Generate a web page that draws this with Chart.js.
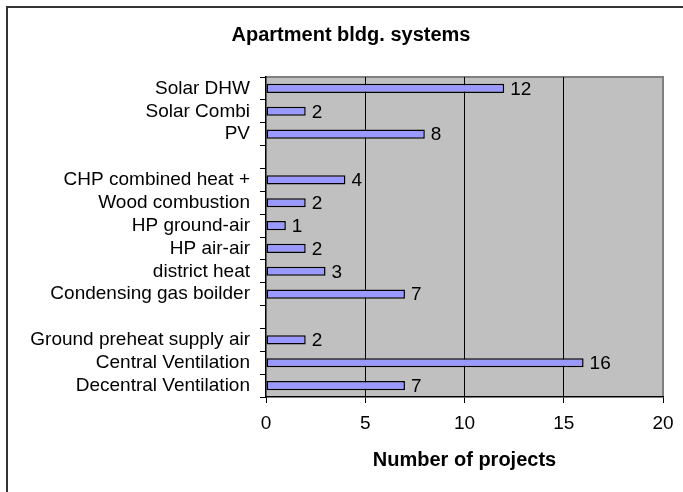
<!DOCTYPE html>
<html>
<head>
<meta charset="utf-8">
<script src="https://cdn.jsdelivr.net/npm/chart.js@4/dist/chart.umd.min.js"></script>
<style>
  html, body { margin: 0; padding: 0; background: #fff; }
  #wrap { width: 683px; height: 492px; }
</style>
</head>
<body>
<div id="wrap"><canvas id="chart" width="683" height="492"></canvas></div>
<script>
// categories top to bottom, "" = spacer row
const categories = [
  "Solar DHW", "Solar Combi", "PV", "",
  "CHP combined heat +", "Wood combustion", "HP ground-air", "HP air-air",
  "district heat", "Condensing gas boilder", "",
  "Ground preheat supply air", "Central Ventilation", "Decentral Ventilation"
];
const projects = [12, 2, 8, null, 4, 2, 1, 2, 3, 7, null, 2, 16, 7];
const xTicks = [0, 5, 10, 15, 20];

const FONT = "'Liberation Sans', Arial, sans-serif";

// frame, title and plot background
const backdrop = {
  id: "backdrop",
  beforeDraw(chart) {
    const { ctx, chartArea: a } = chart;
    ctx.save();
    ctx.fillStyle = "#fff";
    ctx.fillRect(0, 0, chart.width, chart.height);
    ctx.strokeStyle = "#333";
    ctx.lineWidth = 2;
    ctx.beginPath();
    ctx.moveTo(7, chart.height);
    ctx.lineTo(7, 7);
    ctx.lineTo(chart.width, 7);
    ctx.stroke();
    ctx.fillStyle = "#c0c0c0";
    ctx.fillRect(a.left, a.top, a.right - a.left, a.bottom - a.top);
    ctx.strokeStyle = "#808080";
    ctx.lineWidth = 2;
    ctx.beginPath();
    ctx.moveTo(a.left, a.top);
    ctx.lineTo(a.right, a.top);
    ctx.lineTo(a.right, a.bottom);
    ctx.stroke();
    ctx.fillStyle = "#000";
    ctx.font = "bold 20px " + FONT;
    ctx.textAlign = "center";
    ctx.textBaseline = "middle";
    ctx.fillText("Apartment bldg. systems", 351, 35);
    ctx.restore();
  }
};

// numbers at the end of each bar
const valueLabels = {
  id: "valueLabels",
  afterDatasetsDraw(chart) {
    const { ctx } = chart;
    const meta = chart.getDatasetMeta(0);
    ctx.save();
    ctx.fillStyle = "#000";
    ctx.font = "19px " + FONT;
    ctx.textAlign = "left";
    ctx.textBaseline = "middle";
    meta.data.forEach((bar, i) => {
      const v = projects[i];
      if (v == null) return;
      ctx.fillText(String(v), bar.x + 6, bar.y + 1);
    });
    ctx.restore();
  }
};

new Chart(document.getElementById("chart"), {
  type: "bar",
  data: {
    labels: categories,
    datasets: [{
      data: projects,
      backgroundColor: "#9999ff",
      borderColor: "#000",
      borderWidth: 1.5,
      borderSkipped: false,
      categoryPercentage: 1,
      barPercentage: 0.4
    }]
  },
  options: {
    indexAxis: "y",
    responsive: false,
    animation: false,
    devicePixelRatio: 1,
    layout: { padding: { top: 77, right: 20, left: 0, bottom: 0 } },
    plugins: {
      legend: { display: false },
      tooltip: { enabled: false }
    },
    scales: {
      x: {
        min: 0,
        max: 20,
        afterBuildTicks(scale) {
          scale.ticks = xTicks.map(v => ({ value: v }));
        },
        afterFit(scale) { scale.height = 95; },
        ticks: { color: "#000", font: { family: FONT, size: 19 }, padding: 9 },
        grid: {
          color: c => (c.tick.value > 0 && c.tick.value < 20) ? "#000" : "rgba(0,0,0,0)",
          tickColor: "#000",
          tickLength: 6,
          lineWidth: 1
        },
        border: { color: "#000", width: 1.5 },
        title: {
          display: true,
          text: "Number of projects",
          color: "#000",
          font: { family: FONT, size: 20, weight: "bold" },
          padding: { top: 0, bottom: 20 }
        }
      },
      y: {
        afterFit(scale) { scale.width = 266; },
        ticks: { color: "#000", font: { family: FONT, size: 19 }, padding: 10, autoSkip: false },
        grid: {
          offset: true,
          drawOnChartArea: false,
          tickColor: "#000",
          tickLength: 6
        },
        border: { color: "#000", width: 1.5 }
      }
    }
  },
  plugins: [backdrop, valueLabels]
});
</script>
</body>
</html>
